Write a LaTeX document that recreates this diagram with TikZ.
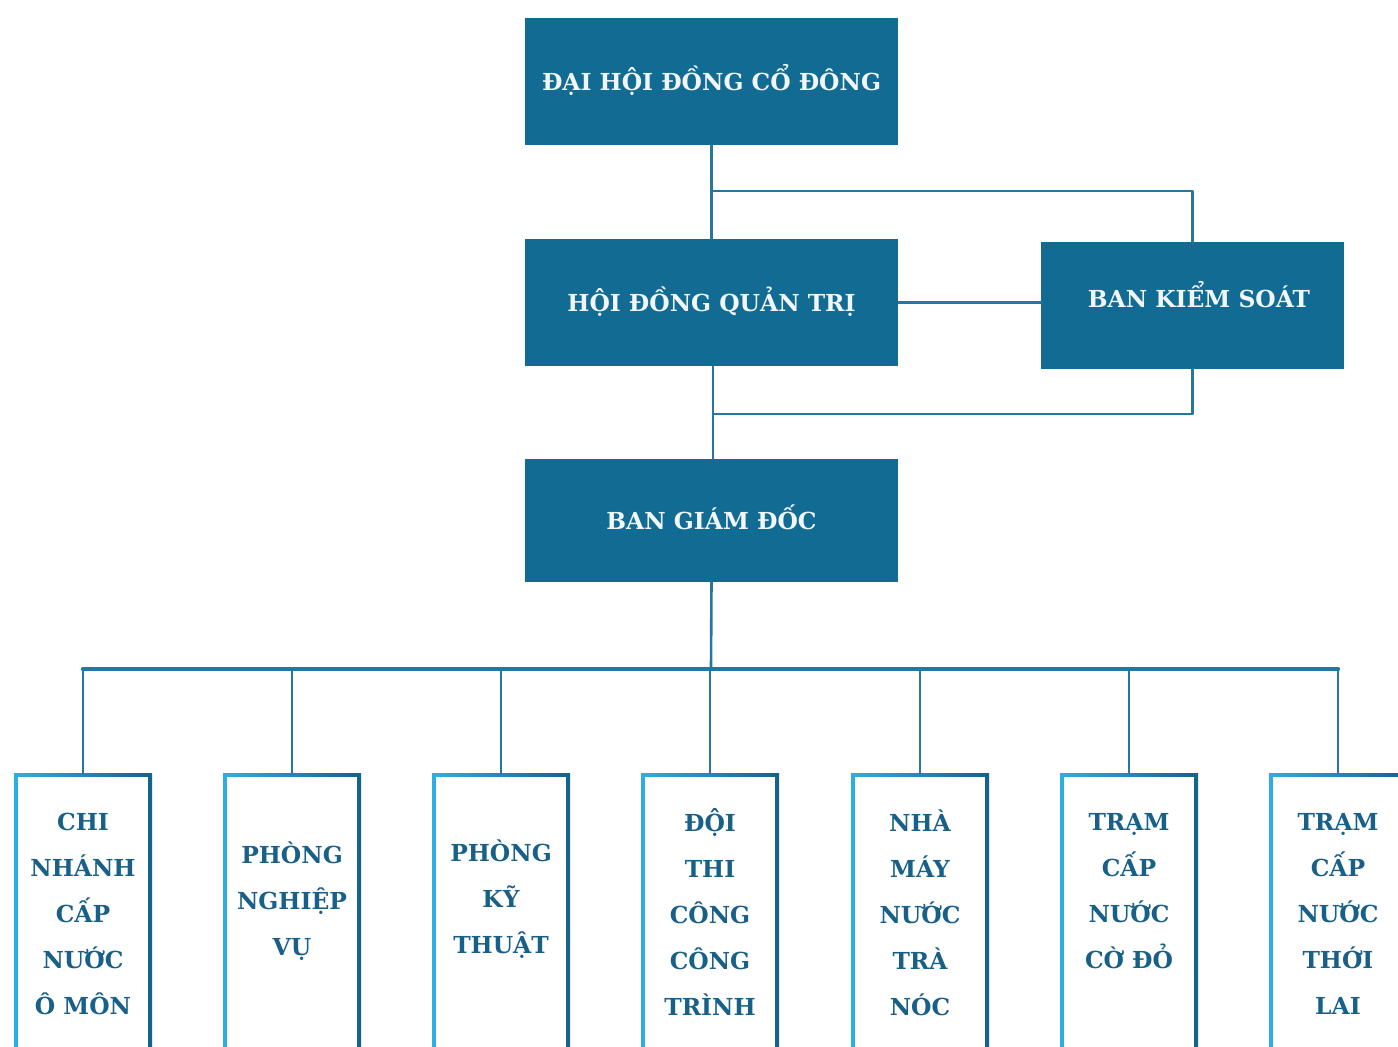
\documentclass[tikz,border=0pt]{standalone}
\usepackage{fontspec}
\setmainfont{DejaVu Serif}
\usetikzlibrary{positioning,calc}

\definecolor{boxblue}{RGB}{17,107,147}
\definecolor{linkblue}{RGB}{38,118,158}
\definecolor{rimlight}{RGB}{45,175,228}
\definecolor{rimdark}{RGB}{20,98,138}
\definecolor{unittxt}{RGB}{24,96,136}

\begin{document}
\begin{tikzpicture}[x=1pt, y=-1pt, line join=round, line cap=round,
	font=\bfseries\fontsize{23.4}{46}\selectfont,
	headbox/.style={fill=boxblue, text=white!94!boxblue, inner sep=0pt,
		text height=17pt, text depth=0pt,
		minimum width=373pt, minimum height=127pt},
	unitbox/.style={anchor=north, inner sep=0pt, minimum width=138pt, minimum height=330pt,
		left color=rimlight, right color=rimdark,
		path picture={\fill[white] ($(path picture bounding box.north west)+(4,4)$)
			rectangle ($(path picture bounding box.south east)+(-4,-4)$);}},
	unittext/.style={text=unittxt, align=center, inner sep=0pt},
	link/.style={draw=linkblue, line width=2.6pt},
	bus/.style={draw=linkblue, line width=4.4pt}]
	\useasboundingbox (0,0) rectangle (1398,1047);
	\clip (0,0) rectangle (1398,1047);
	\def \ytop{773} \def \ybus{669}

	% upper levels
	\node[headbox] (dhd) at (711.5,81.5) {ĐẠI HỘI ĐỒNG CỔ ĐÔNG};
	\node[headbox] (hdqt) at (711.5,302.5) {HỘI ĐỒNG QUẢN TRỊ};
	\node[headbox, minimum width=303pt] (bks) at (1192.5,305.5) {\hspace*{13pt}\raisebox{7pt}{BAN KIỂM SOÁT}};
	\node[headbox, minimum height=123pt] (bgd) at (711.5,520.5) {BAN GIÁM ĐỐC};
	\coordinate (j1) at (711,191);
	\coordinate (j2) at (713,414);
	\coordinate (b) at (711,\ybus);

	\draw[link] (dhd.south) -- (hdqt.north);
	\draw[link] (j1) -| (bks.north);
	\draw[link] (hdqt.east) -- (hdqt.east -| bks.west);
	\draw[link] (hdqt.south -| j2) -- (bgd.north -| j2);
	\draw[link] (j2) -| (bks.south);
	\draw[link] (bgd.south) -- (b);

	% units
	\foreach \n/\xc/\yc/\txt in {
		1/83/914/{CHI\\NHÁNH\\CẤP\\NƯỚC\\Ô MÔN},
		2/292/901/{PHÒNG\\NGHIỆP\\VỤ},
		3/501/899/{PHÒNG\\KỸ\\THUẬT},
		4/710/912/{ĐỘI\\THI\\CÔNG\\CÔNG\\TRÌNH},
		5/920/913/{NHÀ\\MÁY\\NƯỚC\\TRÀ\\NÓC},
		6/1129/891/{TRẠM\\CẤP\\NƯỚC\\CỜ ĐỎ},
		7/1338/914/{TRẠM\\CẤP\\NƯỚC\\THỚI\\LAI}}{
		\node[unitbox] (u\n) at (\xc,\ytop) {};
		\node[unittext] (t\n) at (\xc,\yc) {\txt};
		\draw[link] (u\n.north |- b) -- (u\n.north);
	}
	\draw[bus] (u1.north |- b) -- (u7.north |- b);
\end{tikzpicture}
\end{document}
